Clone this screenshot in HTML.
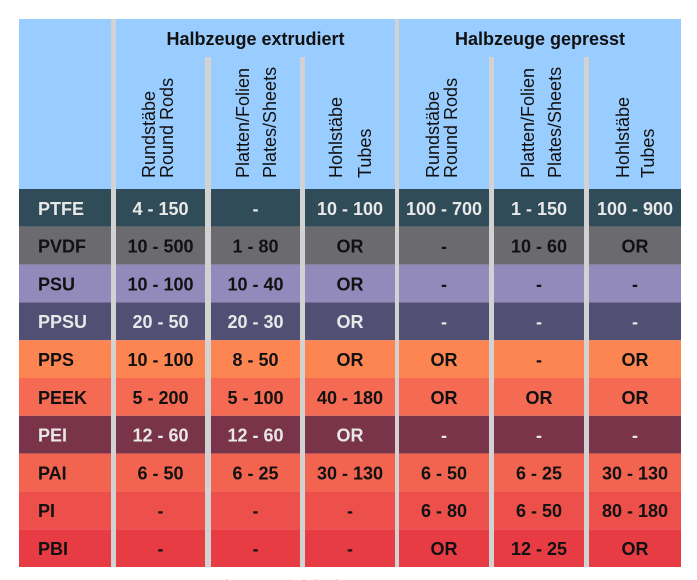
<!DOCTYPE html>
<html>
<head>
<meta charset="utf-8">
<style>
html,body{margin:0;padding:0;background:#fff;}
body{width:697px;height:580px;overflow:hidden;}
svg{display:block;}
text{font-family:"Liberation Sans",Arial,sans-serif;}
.t{font-size:18px;font-weight:bold;text-anchor:middle;}
.l{font-size:18px;font-weight:bold;}
.h{font-size:18px;}
</style>
</head>
<body>
<svg width="697" height="580" viewBox="0 0 697 580" xmlns="http://www.w3.org/2000/svg">
  <rect x="0" y="0" width="697" height="580" fill="#ffffff"/>
  <!-- header -->
  <rect x="19" y="19" width="662" height="170" fill="#99ccff"/>
  <!-- rows -->
  <rect x="19" y="189" width="662" height="37.8" fill="#304c58"/>
  <rect x="19" y="226.8" width="662" height="37.8" fill="#6b6a6e"/>
  <rect x="19" y="264.6" width="662" height="37.8" fill="#928abb"/>
  <rect x="19" y="302.4" width="662" height="37.8" fill="#524f74"/>
  <rect x="19" y="340.2" width="662" height="37.8" fill="#fc8552"/>
  <rect x="19" y="378" width="662" height="37.8" fill="#f46a52"/>
  <rect x="19" y="415.8" width="662" height="37.8" fill="#7a3449"/>
  <rect x="19" y="453.6" width="662" height="37.8" fill="#f26450"/>
  <rect x="19" y="491.4" width="662" height="37.8" fill="#ed4f4a"/>
  <rect x="19" y="529.2" width="662" height="37.8" fill="#e83c44"/>
  <!-- separators -->
  <g fill="#d2d2d2">
    <rect x="111" y="19" width="5" height="548"/>
    <rect x="395" y="19" width="4" height="548"/>
    <rect x="205" y="57" width="6" height="510"/>
    <rect x="300" y="57" width="5" height="510"/>
    <rect x="489" y="57" width="5" height="510"/>
    <rect x="584" y="57" width="5" height="510"/>
  </g>
  <!-- group titles -->
  <text class="l" x="255.5" y="45" text-anchor="middle" fill="#111">Halbzeuge extrudiert</text>
  <text class="l" x="540" y="45" text-anchor="middle" fill="#111">Halbzeuge gepresst</text>
  <!-- vertical headers -->
  <g class="h" fill="#111">
    <text class="h" transform="translate(155,178) rotate(-90)">Rundstäbe</text>
    <text class="h" transform="translate(173,178) rotate(-90)">Round Rods</text>
    <text class="h" transform="translate(249,178) rotate(-90)">Platten/Folien</text>
    <text class="h" transform="translate(276,178) rotate(-90)">Plates/Sheets</text>
    <text class="h" transform="translate(342,178) rotate(-90)">Hohlstäbe</text>
    <text class="h" transform="translate(371,178) rotate(-90)">Tubes</text>
    <text class="h" transform="translate(439,178) rotate(-90)">Rundstäbe</text>
    <text class="h" transform="translate(457,178) rotate(-90)">Round Rods</text>
    <text class="h" transform="translate(534,178) rotate(-90)">Platten/Folien</text>
    <text class="h" transform="translate(561,178) rotate(-90)">Plates/Sheets</text>
    <text class="h" transform="translate(629,178) rotate(-90)">Hohlstäbe</text>
    <text class="h" transform="translate(654,178) rotate(-90)">Tubes</text>
  </g>
  <!-- row 1 PTFE -->
  <g fill="#e8e8e8">
    <text class="l" x="38" y="214.8">PTFE</text>
    <text class="t" x="160.5" y="214.8">4 - 150</text>
    <text class="t" x="255.5" y="214.8">-</text>
    <text class="t" x="350" y="214.8">10 - 100</text>
    <text class="t" x="444" y="214.8">100 - 700</text>
    <text class="t" x="539" y="214.8">1 - 150</text>
    <text class="t" x="635" y="214.8">100 - 900</text>
  </g>
  <!-- row 2 PVDF -->
  <g fill="#111">
    <text class="l" x="38" y="252.6">PVDF</text>
    <text class="t" x="160.5" y="252.6">10 - 500</text>
    <text class="t" x="255.5" y="252.6">1 - 80</text>
    <text class="t" x="350" y="252.6">OR</text>
    <text class="t" x="444" y="252.6">-</text>
    <text class="t" x="539" y="252.6">10 - 60</text>
    <text class="t" x="635" y="252.6">OR</text>
  </g>
  <!-- row 3 PSU -->
  <g fill="#111">
    <text class="l" x="38" y="290.4">PSU</text>
    <text class="t" x="160.5" y="290.4">10 - 100</text>
    <text class="t" x="255.5" y="290.4">10 - 40</text>
    <text class="t" x="350" y="290.4">OR</text>
    <text class="t" x="444" y="290.4">-</text>
    <text class="t" x="539" y="290.4">-</text>
    <text class="t" x="635" y="290.4">-</text>
  </g>
  <!-- row 4 PPSU -->
  <g fill="#e8e8e8">
    <text class="l" x="38" y="328.2">PPSU</text>
    <text class="t" x="160.5" y="328.2">20 - 50</text>
    <text class="t" x="255.5" y="328.2">20 - 30</text>
    <text class="t" x="350" y="328.2">OR</text>
    <text class="t" x="444" y="328.2">-</text>
    <text class="t" x="539" y="328.2">-</text>
    <text class="t" x="635" y="328.2">-</text>
  </g>
  <!-- row 5 PPS -->
  <g fill="#111">
    <text class="l" x="38" y="366">PPS</text>
    <text class="t" x="160.5" y="366">10 - 100</text>
    <text class="t" x="255.5" y="366">8 - 50</text>
    <text class="t" x="350" y="366">OR</text>
    <text class="t" x="444" y="366">OR</text>
    <text class="t" x="539" y="366">-</text>
    <text class="t" x="635" y="366">OR</text>
  </g>
  <!-- row 6 PEEK -->
  <g fill="#111">
    <text class="l" x="38" y="403.8">PEEK</text>
    <text class="t" x="160.5" y="403.8">5 - 200</text>
    <text class="t" x="255.5" y="403.8">5 - 100</text>
    <text class="t" x="350" y="403.8">40 - 180</text>
    <text class="t" x="444" y="403.8">OR</text>
    <text class="t" x="539" y="403.8">OR</text>
    <text class="t" x="635" y="403.8">OR</text>
  </g>
  <!-- row 7 PEI -->
  <g fill="#e8e8e8">
    <text class="l" x="38" y="441.6">PEI</text>
    <text class="t" x="160.5" y="441.6">12 - 60</text>
    <text class="t" x="255.5" y="441.6">12 - 60</text>
    <text class="t" x="350" y="441.6">OR</text>
    <text class="t" x="444" y="441.6">-</text>
    <text class="t" x="539" y="441.6">-</text>
    <text class="t" x="635" y="441.6">-</text>
  </g>
  <!-- row 8 PAI -->
  <g fill="#111">
    <text class="l" x="38" y="479.4">PAI</text>
    <text class="t" x="160.5" y="479.4">6 - 50</text>
    <text class="t" x="255.5" y="479.4">6 - 25</text>
    <text class="t" x="350" y="479.4">30 - 130</text>
    <text class="t" x="444" y="479.4">6 - 50</text>
    <text class="t" x="539" y="479.4">6 - 25</text>
    <text class="t" x="635" y="479.4">30 - 130</text>
  </g>
  <!-- row 9 PI -->
  <g fill="#111">
    <text class="l" x="38" y="517.2">PI</text>
    <text class="t" x="160.5" y="517.2">-</text>
    <text class="t" x="255.5" y="517.2">-</text>
    <text class="t" x="350" y="517.2">-</text>
    <text class="t" x="444" y="517.2">6 - 80</text>
    <text class="t" x="539" y="517.2">6 - 50</text>
    <text class="t" x="635" y="517.2">80 - 180</text>
  </g>
  <!-- row 10 PBI -->
  <g fill="#111">
    <text class="l" x="38" y="555">PBI</text>
    <text class="t" x="160.5" y="555">-</text>
    <text class="t" x="255.5" y="555">-</text>
    <text class="t" x="350" y="555">-</text>
    <text class="t" x="444" y="555">OR</text>
    <text class="t" x="539" y="555">12 - 25</text>
    <text class="t" x="635" y="555">OR</text>
  </g>
  <!-- cut-off footnote -->
  <text x="343" y="591" text-anchor="middle" font-size="16" fill="#aaaaaa">* Durchmesser/Dicke in mm, OR = on request</text>
</svg>
</body>
</html>
